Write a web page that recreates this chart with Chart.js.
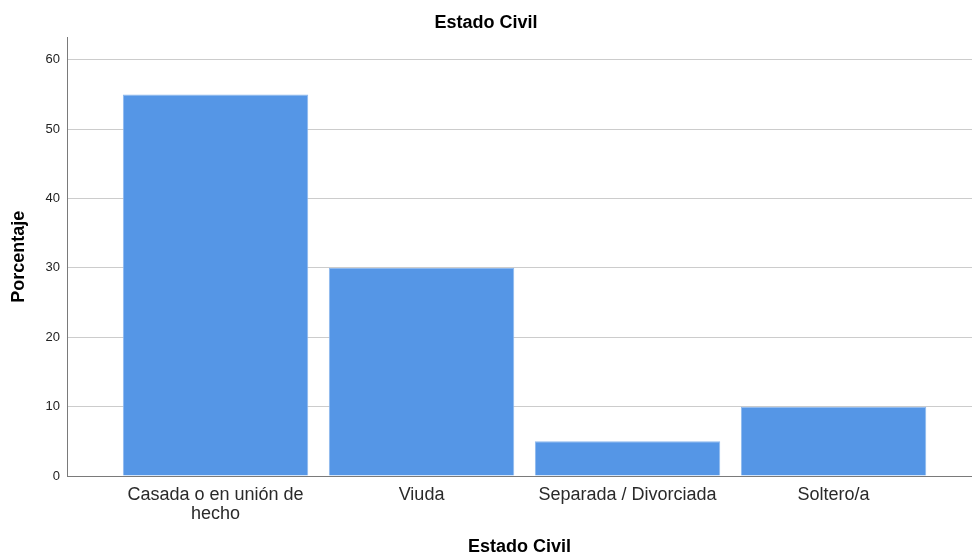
<!DOCTYPE html>
<html>
<head>
<meta charset="utf-8">
<script src="https://cdn.jsdelivr.net/npm/chart.js@4.4.0/dist/chart.umd.min.js"></script>
<style>
  html, body { margin: 0; padding: 0; background: #fff; }
  #wrap { width: 972px; height: 558px; }
</style>
</head>
<body>
<div id="wrap"><canvas id="myChart" width="972" height="558"></canvas></div>
<script>
// datos
const categorias = [['Casada o en unión de', 'hecho'], 'Viuda', 'Separada / Divorciada', 'Soltero/a'];
const porcentajes = [55, 30, 5, 10];
const ticksY = [0, 10, 20, 30, 40, 50, 60];

const ctx = document.getElementById('myChart').getContext('2d');

const puntos = porcentajes.map((v, i) => ({ x: i, y: v }));

const myChart = new Chart(ctx, {
    type: 'bar',
    data: {
        datasets: [{
            label: 'Porcentaje',
            data: puntos,
            backgroundColor: '#5596E6',
            borderColor: '#8DB8EE',
            borderWidth: 1,
            barPercentage: 0.9,
            categoryPercentage: 1
        }]
    },
    options: {
        responsive: false,
        animation: false,
        layout: { padding: 0 },
        plugins: {
            legend: { display: false },
            tooltip: { enabled: false },
            title: {
                display: true,
                text: 'Estado Civil',
                color: '#000',
                font: { family: 'Liberation Sans, Arial', size: 18, weight: 'bold' },
                padding: { top: 12, bottom: 4 }
            }
        },
        scales: {
            x: {
                type: 'linear',
                offset: false,
                min: -0.721,
                max: 3.672,
                afterBuildTicks: function(scale) {
                    scale.ticks = categorias.map((c, i) => ({ value: i }));
                },
                afterFit: function(scale) {
                    scale.height = 82;
                },
                ticks: {
                    autoSkip: false,
                    maxRotation: 0,
                    padding: 10,
                    color: '#2a2a2a',
                    font: { family: 'Liberation Sans, Arial', size: 18, lineHeight: 1.05 },
                    callback: function(value) {
                        return categorias[value];
                    }
                },
                grid: { display: false, drawTicks: false },
                border: { display: true, color: '#7a7a7a', width: 1 },
                title: {
                    display: true,
                    text: 'Estado Civil',
                    color: '#000',
                    font: { family: 'Liberation Sans, Arial', size: 18, weight: 'bold' },
                    padding: { top: 0, bottom: 0 }
                }
            },
            y: {
                min: 0,
                max: 63.2,
                afterBuildTicks: function(scale) {
                    scale.ticks = ticksY.map(v => ({ value: v }));
                },
                afterFit: function(scale) {
                    scale.width = 67;
                },
                ticks: {
                    padding: 7,
                    color: '#222',
                    font: { family: 'Liberation Sans, Arial', size: 13 }
                },
                grid: { color: '#cccccc', drawTicks: false },
                border: { display: true, color: '#7a7a7a', width: 1 },
                title: {
                    display: true,
                    text: 'Porcentaje',
                    color: '#000',
                    font: { family: 'Liberation Sans, Arial', size: 18, weight: 'bold' },
                    padding: { top: 8, bottom: 0 }
                }
            }
        }
    }
});
</script>
</body>
</html>
